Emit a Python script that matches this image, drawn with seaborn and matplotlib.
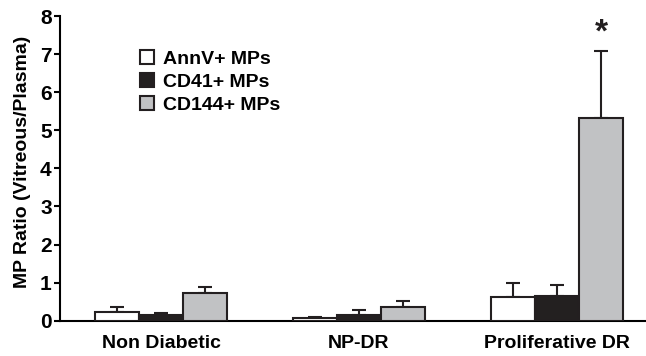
import matplotlib
matplotlib.use("Agg")
import matplotlib.pyplot as plt
import seaborn as sns
import numpy as np
import pandas as pd

# ─────────────────────────────────────────────
# DATA
# ─────────────────────────────────────────────
groups = ["Non Diabetic", "NP-DR", "Proliferative DR"]
markers = ["AnnV+ MPs", "CD41+ MPs", "CD144+ MPs"]
annv_mean = [0.24, 0.07, 0.62]
annv_err = [0.12, 0.03, 0.37]
cd41_mean = [0.15, 0.16, 0.65]
cd41_err = [0.06, 0.13, 0.29]
cd144_mean = [0.73, 0.36, 5.33]
cd144_err = [0.16, 0.16, 1.76]

means = [annv_mean, cd41_mean, cd144_mean]
errs = [annv_err, cd41_err, cd144_err]

df = pd.DataFrame({
    "group": [g for _ in markers for g in groups],
    "marker": [m for m in markers for _ in groups],
    "ratio": [v for series in means for v in series],
})

colors = ["#ffffff", "#231f20", "#c1c2c4"]
edge = "#231f20"

plt.rcParams["font.family"] = ["Liberation Sans", "DejaVu Sans"]
plt.rcParams["font.weight"] = "bold"

fig = plt.figure(figsize=(6.46, 3.56), dpi=100)
ax = fig.add_axes([0.093, 0.099, 0.907, 0.856])

sns.barplot(data=df, x="group", y="ratio", hue="marker", order=groups,
            hue_order=markers, palette=colors, errorbar=None, width=0.67,
            edgecolor=edge, linewidth=1.5, ax=ax, zorder=3)

# upper-only error bars
for cont, err in zip(ax.containers, errs):
    xs = [p.get_x() + p.get_width() / 2 for p in cont.patches]
    ys = [p.get_height() for p in cont.patches]
    ax.errorbar(xs, ys, yerr=[np.zeros(len(err)), err], fmt="none",
                ecolor=edge, elinewidth=1.5, capsize=5, capthick=1.5, zorder=2)

# significance star over the CD144+ PDR bar
star_bar = ax.containers[2].patches[2]
ax.text(star_bar.get_x() + star_bar.get_width() / 2, 7.55, "*", ha="center",
        va="center", fontsize=24, fontweight="bold", color=edge)

ax.set_ylim(0, 8)
ax.set_xlim(-0.51, 2.45)
ax.set_yticks(range(0, 9))
ax.set_yticklabels([str(t) for t in range(0, 9)], fontsize=15, fontweight="bold")
ax.set_xlabel("")
ax.set_ylabel("MP Ratio (Vitreous/Plasma)", fontsize=14, fontweight="bold")
ax.yaxis.set_label_coords(-0.05, 0.52)
ax.tick_params(axis="y", width=1.5, length=4, pad=2)
ax.tick_params(axis="x", labelsize=14, length=0, pad=10)
for lab in ax.get_xticklabels():
    lab.set_fontweight("bold")
ax.spines[["top", "right"]].set_visible(False)
ax.spines["left"].set_linewidth(1.5)
ax.spines["bottom"].set_linewidth(1.5)

ax.legend(loc="upper left", bbox_to_anchor=(0.107, 0.945), frameon=False,
          handlelength=0.7, handleheight=0.7, handletextpad=0.45,
          labelspacing=0.27, prop={"weight": "bold", "size": 14})

plt.savefig("out.png", dpi=100)
plt.close()
